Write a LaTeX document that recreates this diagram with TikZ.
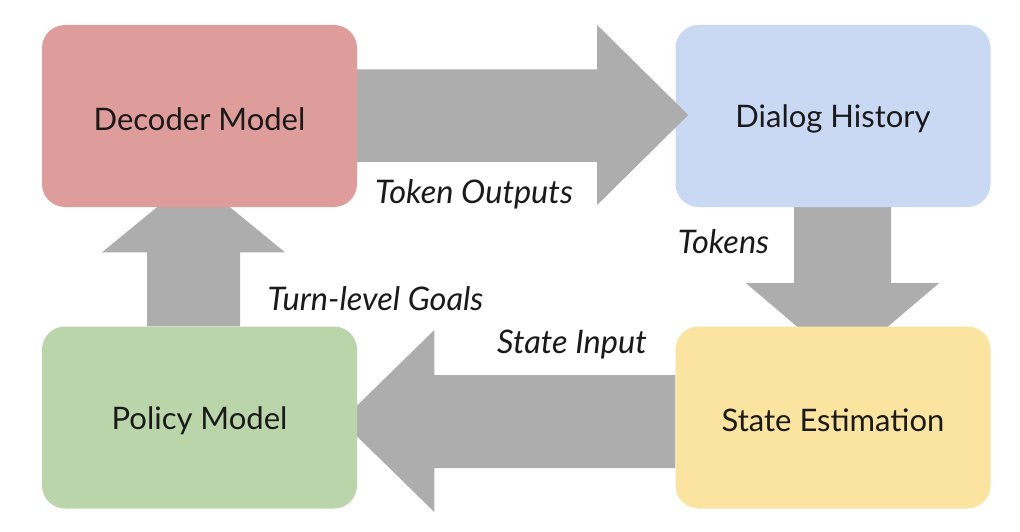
\documentclass[tikz,border=0pt]{standalone}
\usepackage{fontspec}
\setmainfont{Lato}
\usetikzlibrary{calc,backgrounds}
\definecolor{decc}{HTML}{DE9D9B}
\definecolor{histc}{HTML}{C9D9F3}
\definecolor{polc}{HTML}{B9D5A9}
\definecolor{statec}{HTML}{FAE4A0}
\definecolor{arrc}{HTML}{ADADAD}
\definecolor{txtc}{HTML}{1A1A1A}
\begin{document}
\begin{tikzpicture}[x=1pt,y=-1pt,
  box/.style={rounded corners=23pt, minimum width=315pt, minimum height=182pt, inner sep=0pt},
  boxtext/.style={text=txtc, inner sep=0pt, font=\fontsize{31}{36}\selectfont},
  lab/.style={text=txtc, inner sep=0pt, font=\fontsize{32.5}{38}\selectfont\itshape},
  blockarrow/.style={fill=arrc, draw=none}]
\useasboundingbox (0,0) rectangle (1020,532);
\node[box, fill=decc] (dec) at (199.5,116) {};
\node[box, fill=histc] (hist) at (833,116) {};
\node[box, fill=polc] (pol) at (199.5,417.5) {};
\node[box, fill=statec] (state) at (833,417.5) {};
\node[boxtext] (tdec) at ($(dec.center)+(0,3)$) {Decoder Model};
\node[boxtext] (thist) at ($(hist.center)+(0,3)$) {Dialog History};
\node[boxtext] (tpol) at ($(pol.center)+(0,3)$) {Policy Model};
\node[boxtext] (tstate) at ($(state.center)+(0,3)$) {State Estimation};
\begin{scope}[on background layer]
  % down arrow: Dialog History -> State Estimation
  \fill[blockarrow] ($(hist.south)+(-39,0)$) -- ++(0,76) -- ++(-48,0) -- ++(96.5,82)
     -- ++(96.5,-82) -- ++(-48,0) -- ++(0,-76) -- cycle;
  % left arrow: State Estimation -> Policy Model
  \fill[blockarrow] ($(state.west)+(0,-42.5)$) -- ++(-241,0) -- ++(0,-45) -- ++(-93,91)
     -- ++(93,91) -- ++(0,-44) -- ++(241,0) -- cycle;
  % up arrow: Policy Model -> Decoder Model
  \fill[blockarrow] ($(pol.north)+(-52.5,0)$) -- ++(0,-74) -- ++(-45,0) -- ++(91.5,-75)
     -- ++(91.5,75) -- ++(-45,0) -- ++(0,74) -- cycle;
\end{scope}
% right arrow: Decoder Model -> Dialog History
\fill[blockarrow] ($(dec.east)+(0,-46.5)$) -- ++(240,0) -- ++(0,-44.5) -- ++(91,90)
   -- ++(-91,90) -- ++(0,-43) -- ++(-240,0) -- cycle;
\node[lab] (lto) at (474,194) {Token Outputs};
\node[lab] (ltok) at (723.5,242) {Tokens};
\node[lab] (lgoal) at (375.5,299) {Turn-level Goals};
\node[lab] (lin) at (572,345) {State Input};
\end{tikzpicture}
\end{document}
